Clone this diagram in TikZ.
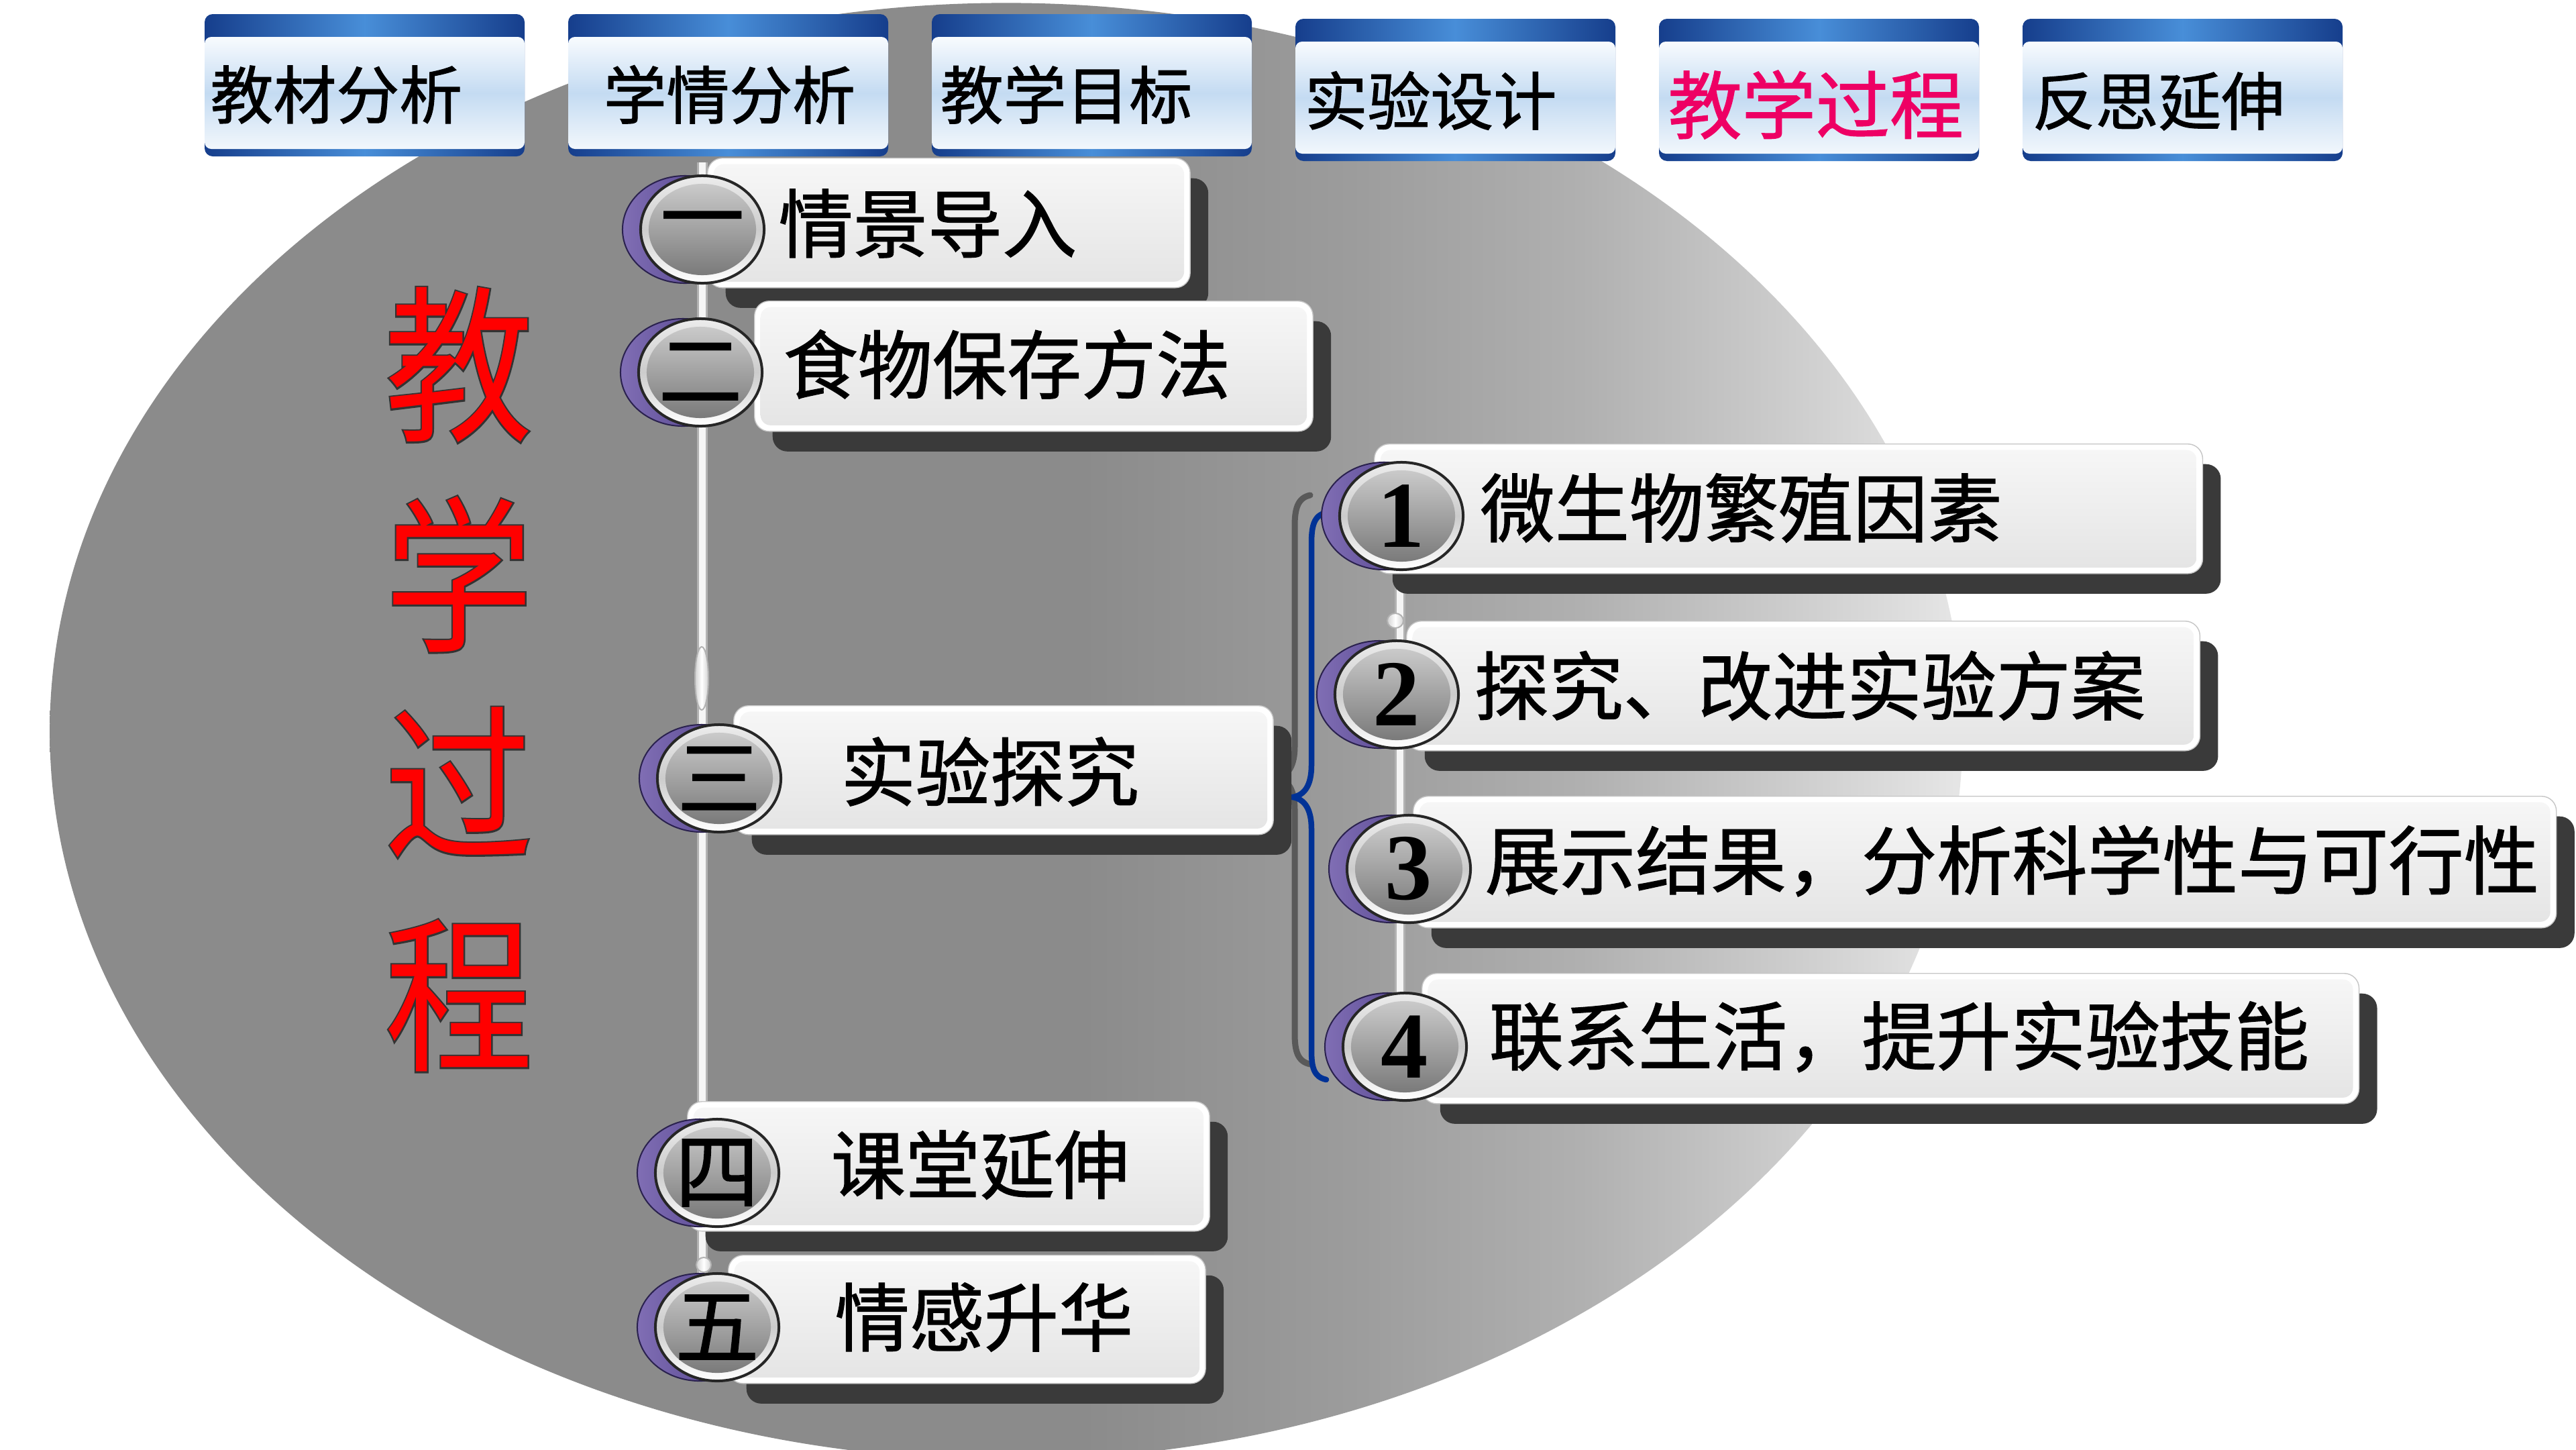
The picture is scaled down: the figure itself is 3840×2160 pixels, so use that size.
\documentclass[tikz,border=0pt]{standalone}
\usepackage{fontspec}
\usepackage{graphicx}
\setmainfont{Liberation Serif}
\newfontfamily\cjk{Noto Sans CJK SC}[FakeBold=1.2]
\newfontfamily\cjkfat{Noto Sans CJK SC}[FakeBold=2]
\newfontfamily\cjkthin{Noto Sans CJK SC}
\usetikzlibrary{shapes.geometric,shadows}

\definecolor{bgA}{RGB}{139,139,139}
\definecolor{bgB}{RGB}{156,156,156}
\definecolor{bgC}{RGB}{176,176,176}
\definecolor{bgD}{RGB}{202,202,202}
\definecolor{bgE}{RGB}{230,230,230}
\pgfdeclarehorizontalshading{ellbg}{100bp}{color(0bp)=(bgA); color(25bp)=(bgA); color(52bp)=(bgA); color(59bp)=(bgB); color(65bp)=(bgC); color(70bp)=(bgD); color(75bp)=(bgE); color(100bp)=(bgE)}
\definecolor{tabdark}{RGB}{22,62,140}
\definecolor{tabmidb}{RGB}{72,142,216}
\definecolor{tabtop}{RGB}{248,251,254}
\definecolor{tabmid}{RGB}{196,219,242}
\definecolor{tabbot}{RGB}{242,247,252}
\definecolor{pinkred}{RGB}{238,0,100}
\definecolor{boxtop}{RGB}{247,247,247}
\definecolor{boxbot}{RGB}{228,228,228}
\definecolor{shadowc}{RGB}{58,58,58}
\definecolor{purpA}{RGB}{70,55,130}
\definecolor{purpB}{RGB}{128,110,180}
\definecolor{bracec}{RGB}{0,50,150}

\newcommand\fsz[1]{\fontsize{#1}{#1}\selectfont}

\tikzset{
  itembox/.style={draw=gray!45, line width=0.4pt, fill=white, rounded corners=0.22cm, inner sep=0,
    anchor=north west,
    drop shadow={fill=shadowc, opacity=1, shadow xshift=0.27cm, shadow yshift=-0.3cm},
    path picture={\fill[top color=boxtop, bottom color=boxbot, rounded corners=0.15cm]
      ([xshift=0.09cm,yshift=-0.09cm]path picture bounding box.north west) rectangle
      ([xshift=-0.09cm,yshift=0.09cm]path picture bounding box.south east);}},
  numc/.style={ellipse, minimum width=1.84cm, minimum height=1.6cm, inner sep=0,
    draw=black!85, line width=0.04cm, top color=gray!15, bottom color=white, middle color=gray!40,
    path picture={\shade[top color=black!18, middle color=black!38, bottom color=black!55]
      (path picture bounding box.center) ellipse (0.8cm and 0.68cm);}},
  itemtext/.style={anchor=west, inner sep=0, font={\cjk\fsz{31.6}}},
  tabtext/.style={anchor=west, inner sep=0, font={\cjk\fsz{26.7}}},
  bigred/.style={inner sep=0, font={\cjkthin\fsz{63}}, text=red},
  bigredout/.style={inner sep=0, font={\cjkfat\fsz{63}}, text=black!80},
  barline/.style={draw=gray!60, line width=0.03cm, double=gray!8, double distance=0.1cm},
  bead/.style={ellipse, draw=gray!60, line width=0.02cm, left color=gray!35, right color=gray!35, middle color=white, inner sep=0},
  bracestyle/.style={draw=bracec, line width=0.085cm, line cap=round},
  braceshadow/.style={draw=gray!70!black, line width=0.09cm, line cap=round},
}

\newcommand\toptab[2]{%
  \path[rounded corners=0.12cm, left color=tabdark, right color=tabdark, middle color=tabmidb] (#1,#2) rectangle ++(477,212);
  \path[rounded corners=0.1cm, top color=tabtop, bottom color=tabbot, middle color=tabmid] (#1,#2+34) rectangle ++(477,167);
}
\newcommand\numcirc[4]{%
  \path[left color=purpB, right color=purpA, draw=purpA!60!black, line width=0.02cm] (#2-26,#3) ellipse (0.93cm and 0.8cm);
  \node[numc] (#1) at (#2,#3) {#4};
}

\begin{document}
\begin{tikzpicture}[x=0.01cm, y=-0.01cm]
\useasboundingbox (0,0) rectangle (3840,2160);
\clip (0,0) rectangle (3840,2160);
\fill[white] (0,0) rectangle (3840,2160);

% background ellipse
\shade[shading=ellbg] (1500,1090) ellipse (14.25cm and 10.85cm);

% top tabs
\toptab{305}{21}
\toptab{847}{21}
\toptab{1389}{21}
\toptab{1931}{28}
\toptab{2473}{28}
\toptab{3015}{28}
\node[tabtext] (tab1) at (313,141) {教材分析};
\node[tabtext] (tab2) at (899,141) {学情分析};
\node[tabtext] (tab3) at (1401,141) {教学目标};
\node[tabtext] (tab4) at (1944,150) {实验设计};
\node[tabtext, font={\cjk\fsz{31.3}}, text=pinkred] (tab5) at (2486,156) {教学过程};
\node[tabtext] (tab6) at (3029,151) {反思延伸};

% big vertical title
\node[bigredout] (r1s) at (684,544) {\scalebox{1}[1.13]{教}};
\node[bigred] (r1) at (684,544) {\scalebox{1}[1.13]{教}};
\node[bigredout] (r2s) at (684,856) {\scalebox{1}[1.13]{学}};
\node[bigred] (r2) at (684,856) {\scalebox{1}[1.13]{学}};
\node[bigredout] (r3s) at (684,1166) {\scalebox{1}[1.13]{过}};
\node[bigred] (r3) at (684,1166) {\scalebox{1}[1.13]{过}};
\node[bigredout] (r4s) at (684,1484) {\scalebox{1}[1.13]{程}};
\node[bigred] (r4) at (684,1484) {\scalebox{1}[1.13]{程}};

% bars
\coordinate (bartop) at (1047,242);
\coordinate (barbot) at (1047,1978);
\coordinate (subtop) at (2087,769);
\coordinate (subbot) at (2087,1560);
\draw[barline] (bartop) -- (barbot);
\draw[barline] (subtop) -- (subbot);
\node[bead, minimum width=0.2cm, minimum height=0.94cm] (bead1) at (1046,1011) {};
\node[bead, minimum width=0.24cm, minimum height=0.22cm] (bead2) at (2080,925) {};
\node[bead, minimum width=0.22cm, minimum height=0.22cm] (bead3) at (1049,1885) {};

% brace (shadow then blue)
\coordinate (bracetip) at (1927,1188);
\draw[braceshadow] (1953,738) .. controls (1934,742) and (1930,759) .. (1930,784) -- (1930,1112)
  .. controls (1930,1142) and (1920,1156) .. (1903,1159)
  .. controls (1920,1162) and (1930,1177) .. (1930,1207) -- (1930,1540)
  .. controls (1930,1566) and (1934,1582) .. (1953,1586);
\draw[bracestyle] (1977,764) .. controls (1958,768) and (1955,785) .. (1955,810) -- (1955,1140)
  .. controls (1955,1170) and (1945,1185) .. (bracetip)
  .. controls (1945,1191) and (1955,1206) .. (1955,1236) -- (1955,1565)
  .. controls (1955,1590) and (1958,1605) .. (1977,1609);

% main item boxes
\node[itembox, minimum width=7.19cm, minimum height=1.93cm] (b1) at (1054,235) {};
\node[itembox, minimum width=8.32cm, minimum height=1.94cm] (b2) at (1124,448) {};
\node[itembox, minimum width=8.04cm, minimum height=1.92cm] (b3) at (1093,1051) {};
\node[itembox, minimum width=7.78cm, minimum height=1.93cm] (b4) at (1024,1641) {};
\node[itembox, minimum width=7.11cm, minimum height=1.91cm] (b5) at (1085,1870) {};
% sub item boxes
\node[itembox, minimum width=12.34cm, minimum height=1.93cm] (s1) at (2048,661) {};
\node[itembox, minimum width=11.82cm, minimum height=1.93cm] (s2) at (2096,925) {};
\node[itembox, minimum width=17.03cm, minimum height=1.96cm] (s3) at (2106,1186) {};
\node[itembox, minimum width=13.96cm, minimum height=1.94cm] (s4) at (2119,1450) {};

% circles
\numcirc{c1}{1047}{342}{{\cjk\fsz{35.6}一}}
\numcirc{c2}{1044}{555}{{\cjk\fsz{35.6}二}}
\numcirc{c3}{1072}{1160}{{\cjk\fsz{35.6}三}}
\numcirc{c4}{1069}{1748}{{\cjk\fsz{35.6}四}}
\numcirc{c5}{1069}{1978}{{\cjk\fsz{35.6}五}}
\numcirc{d1}{2089}{769}{{\bfseries\fsz{40}1}}
\numcirc{d2}{2082}{1035}{{\bfseries\fsz{40}2}}
\numcirc{d3}{2100}{1295}{{\bfseries\fsz{40}3}}
\numcirc{d4}{2094}{1560}{{\bfseries\fsz{40}4}}

% texts
\node[itemtext] (t1) at (1160,333) {情景导入};
\node[itemtext] (t2) at (1167,543) {食物保存方法};
\node[itemtext] (t3) at (1253,1150) {实验探究};
\node[itemtext] (t4) at (1238,1736) {课堂延伸};
\node[itemtext] (t5) at (1244,1963) {情感升华};
\node[itemtext] (u1) at (2206,757) {微生物繁殖因素};
\node[itemtext] (u2) at (2197,1022) {探究、改进实验方案};
\node[itemtext] (u3) at (2213,1283) {\scalebox{1.01}[1]{展示结果，分析科学性与可行性}};
\node[itemtext] (u4) at (2219,1545) {联系生活，提升实验技能};
\end{tikzpicture}
\end{document}
